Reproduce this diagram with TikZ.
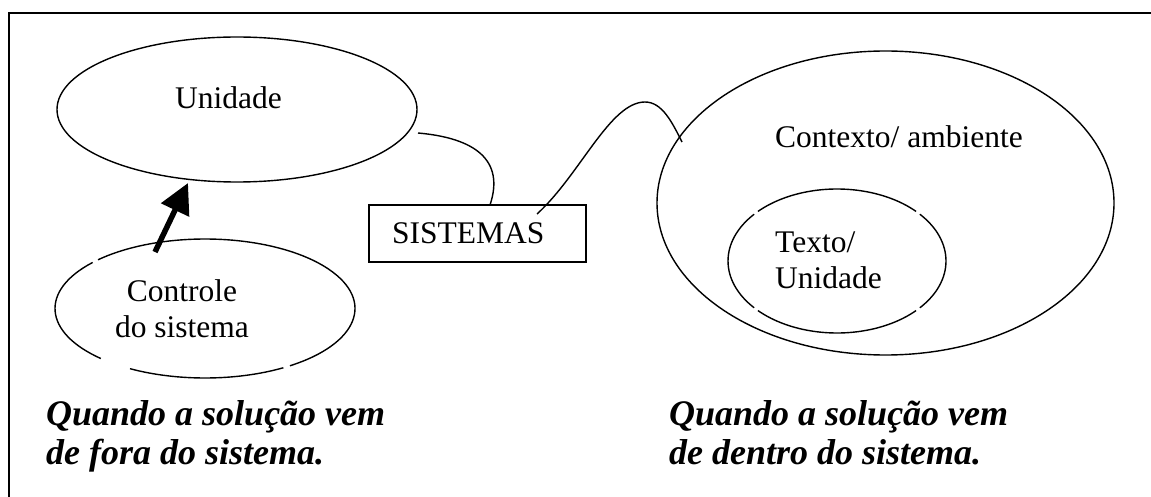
\documentclass[tikz,border=0pt]{standalone}
\usepackage{fontspec}
\setmainfont{Liberation Serif}
\usetikzlibrary{arrows.meta,shapes.geometric,calc}
\begin{document}
\begin{tikzpicture}[x=1pt,y=1pt,
  oval/.style={ellipse, draw, line width=1.4pt, inner sep=0pt},
  ovalnd/.style={ellipse, inner sep=0pt},
  lbl/.style={inner sep=0pt, font=\fontsize{31.5}{36}\selectfont},
  bigtext/.style={inner sep=0pt, font=\fontsize{36}{39}\selectfont\bfseries\itshape},
  conn/.style={line width=1.4pt},
  boxstyle/.style={draw, rectangle, line width=1.6pt, minimum height=57pt, text width=171pt, inner xsep=23pt, inner ysep=0pt, align=left, font=\fontsize{31.5}{36}\selectfont},
  thickarrow/.style={line width=5.5pt, -{Triangle[length=30pt,width=30pt]}}]
\useasboundingbox (0,0) rectangle (1151,-497);
% frame
\draw[line width=2pt, line join=miter] (9,-497) -- (9,-13) -- (1151,-13);

% Unidade
\node[oval, minimum width=360pt, minimum height=145pt] (unidade) at (237,-109.5) {};
\node[lbl, anchor=base west] (tunid) at (175,-109) {Unidade};

% Controle do sistema
\node[ovalnd, minimum width=300pt, minimum height=139pt] (ctrl) at (205,-308.5) {};
\draw[conn] (ctrl.center) ++(138.5:150 and 69.5) arc[start angle=138.5, end angle=226, x radius=150, y radius=69.5];
\draw[conn] (ctrl.center) ++(240:150 and 69.5) arc[start angle=240, end angle=301.5, x radius=150, y radius=69.5];
\draw[conn] (ctrl.center) ++(304.5:150 and 69.5) arc[start angle=304.5, end angle=495.5, x radius=150, y radius=69.5];
\node[lbl, anchor=base] (tctrl) at (182,-301) {\begin{tabular}[t]{@{}c@{}}Controle\\do sistema\end{tabular}};

% arrow
\coordinate (a0) at (155,-252);
\coordinate (a1) at (188,-183);
\draw[thickarrow] (a0) -- (a1);

% SISTEMAS
\node[boxstyle] (sis) at (477.5,-233.5) {SISTEMAS};

% Contexto
\node[oval, minimum width=457pt, minimum height=304pt] (ctx) at (885.5,-203) {};
\node[lbl, anchor=base west] (tctx) at (775,-148) {Contexto/ ambiente};

% Texto / Unidade
\node[ovalnd, minimum width=218pt, minimum height=144pt] (txt) at (837,-261) {};
\draw[conn] (txt.center) ++(43.5:109 and 72) arc[start angle=43.5, end angle=136.5, x radius=109, y radius=72];
\draw[conn] (txt.center) ++(139.5:109 and 72) arc[start angle=139.5, end angle=220.5, x radius=109, y radius=72];
\draw[conn] (txt.center) ++(223.5:109 and 72) arc[start angle=223.5, end angle=316.5, x radius=109, y radius=72];
\draw[conn] (txt.center) ++(319.5:109 and 72) arc[start angle=319.5, end angle=400.5, x radius=109, y radius=72];
\node[lbl, anchor=base west] (ttxt) at (775,-252) {\begin{tabular}[t]{@{}l@{}}Texto/\\Unidade\end{tabular}};

% connectors
\coordinate (u1) at (418,-133);
\coordinate (s1) at (490,-205);
\draw[conn] (u1) .. controls (475,-138) and (505,-160) .. (s1);
\coordinate (s2) at (537,-214);
\coordinate (pk) at (645,-102);
\coordinate (c1) at (682,-142);
\draw[conn] (s2) .. controls (580,-175) and (610,-102) .. (pk) .. controls (662,-102) and (672,-122) .. (c1);

% captions
\node[bigtext, anchor=base west] (qleft) at (46,-425) {\begin{tabular}[t]{@{}l@{}}Quando a solução vem\\de fora do sistema.\end{tabular}};
\node[bigtext, anchor=base west] (qright) at (669,-425) {\begin{tabular}[t]{@{}l@{}}Quando a solução vem\\de dentro do sistema.\end{tabular}};
\end{tikzpicture}
\end{document}
